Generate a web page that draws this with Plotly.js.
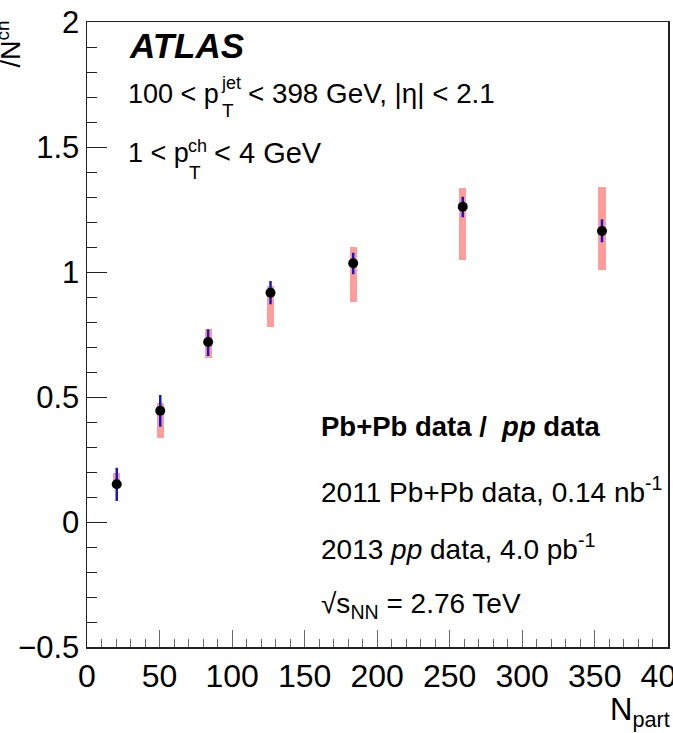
<!DOCTYPE html>
<html>
<head>
<meta charset="utf-8">
<script src="https://cdn.plot.ly/plotly-3.0.1.min.js"></script>
<style>html,body{margin:0;padding:0;background:#fff;}#chart{width:673px;height:733px;}</style>
</head>
<body>
<div id="chart"></div>
<script>
// Data
const nPart   = [20.5, 50.5, 83.5, 126.5, 183.5, 259, 355];
const ratio   = [0.151, 0.445, 0.720, 0.917, 1.035, 1.261, 1.164];
const statUp  = [0.066, 0.063, 0.051, 0.047, 0.042, 0.040, 0.047];
const statDn  = [0.067, 0.064, 0.056, 0.046, 0.044, 0.042, 0.045];
const sysHigh = [0.198, 0.475, 0.771, 0.944, 1.099, 1.336, 1.340];
const sysLow  = [0.136, 0.335, 0.655, 0.781, 0.879, 1.048, 1.008];
const yTickVals = [-0.5, 0, 0.5, 1, 1.5, 2];
const xTickVals = [0, 50, 100, 150, 200, 250, 300, 350, 400];

const FONT = '"Liberation Sans", Arial, Helvetica, sans-serif';

const sysTrace = {
  type: 'bar',
  x: nPart,
  base: sysLow,
  y: sysHigh.map((h, i) => h - sysLow[i]),
  width: 5,
  marker: {color: '#ff9c9c', line: {width: 0}},
  hoverinfo: 'skip',
  showlegend: false
};

const dataTrace = {
  type: 'scatter',
  mode: 'markers',
  x: nPart,
  y: ratio,
  marker: {color: '#000', size: 10},
  error_y: {type: 'data', symmetric: false, array: statUp, arrayminus: statDn,
            color: '#1818c8', thickness: 2.5, width: 0},
  showlegend: false,
  cliponaxis: false
};

const W = 581.5, H = 625, L = 86.5, T = 22;
const px = v => (v - L) / W;
const py = v => (T + H - v) / H;

const annotations = [
  {text: '<b><i>ATLAS</i></b>', x: px(127), y: py(46), xanchor: 'left', yanchor: 'middle', font: {size: 35}},
  // line 2: 100 < pT^jet < 398 GeV, |eta| < 2.1  (ROOT-style stacked sub/sup)
  {text: '100 < p', x: px(126), y: py(94), xanchor: 'left', yanchor: 'middle', font: {size: 27}},
  {text: 'jet', x: px(219), y: py(83), xanchor: 'left', yanchor: 'middle', font: {size: 18}},
  {text: 'T', x: px(220), y: py(111), xanchor: 'left', yanchor: 'middle', font: {size: 19}},
  {text: '< 398 GeV, |η| < 2.1', x: px(246), y: py(94), xanchor: 'left', yanchor: 'middle', font: {size: 27.8}},
  // line 3: 1 < pT^ch < 4 GeV
  {text: '1 < p', x: px(126), y: py(153), xanchor: 'left', yanchor: 'middle', font: {size: 27}},
  {text: 'ch', x: px(186), y: py(146), xanchor: 'left', yanchor: 'middle', font: {size: 18}},
  {text: 'T', x: px(187), y: py(172), xanchor: 'left', yanchor: 'middle', font: {size: 19}},
  {text: '< 4 GeV', x: px(212), y: py(153), xanchor: 'left', yanchor: 'middle', font: {size: 29}},
  {text: '<b>Pb+Pb data /  <i>pp</i> data</b>', x: px(319), y: py(426), xanchor: 'left', yanchor: 'middle', font: {size: 27.5}},
  {text: '2011 Pb+Pb data, 0.14 nb<sup>-1</sup>', x: px(319), y: py(490), xanchor: 'left', yanchor: 'middle', font: {size: 28}},
  {text: '2013 <i>pp</i> data, 4.0 pb<sup>-1</sup>', x: px(319), y: py(547), xanchor: 'left', yanchor: 'middle', font: {size: 28}},
  {text: '√s<sub>NN</sub> = 2.76 TeV', x: px(319), y: py(605), xanchor: 'left', yanchor: 'middle', font: {size: 28}},
  {text: 'N<sub>part</sub>', x: px(672), y: py(712), xanchor: 'right', yanchor: 'middle', font: {size: 31}},
  {text: '/N<sup>ch</sup>', x: px(8), y: py(44), xanchor: 'center', yanchor: 'middle', textangle: -90, font: {size: 27}}
].map(a => Object.assign({xref: 'paper', yref: 'paper', showarrow: false}, a, {font: Object.assign({family: FONT, color: '#000'}, a.font)}));

const layout = {
  width: 673, height: 733,
  margin: {l: L, r: 673 - L - W, t: T, b: 733 - T - H, pad: 0},
  paper_bgcolor: '#fff', plot_bgcolor: '#fff',
  font: {family: FONT, color: '#000'},
  showlegend: false,
  bargap: 0,
  xaxis: {
    range: [0, 400.5], tickvals: xTickVals, ticktext: xTickVals.map(String),
    ticklabeloverflow: 'allow',
    ticks: 'inside', ticklen: 17, tickwidth: 1, tickcolor: '#666',
    minor: {dtick: 10, tick0: 0, ticks: 'inside', ticklen: 8, tickwidth: 1, tickcolor: '#666'},
    showline: true, mirror: true, linecolor: '#222', linewidth: 1.5,
    showgrid: false, zeroline: false,
    tickfont: {size: 32, family: FONT, color: '#000'}
  },
  yaxis: {
    range: [-0.5, 2], tickvals: yTickVals, ticktext: yTickVals.map(v => v < 0 ? '\u2212' + Math.abs(v) : String(v)),
    ticks: 'inside', ticklen: 20, tickwidth: 1, tickcolor: '#222',
    minor: {dtick: 0.1, tick0: 0, ticks: 'inside', ticklen: 10, tickwidth: 1, tickcolor: '#222'},
    showline: true, mirror: true, linecolor: '#222', linewidth: 1.5,
    showgrid: false, zeroline: false,
    tickfont: {size: 31, family: FONT, color: '#000'}
  },
  annotations: annotations
};

Plotly.newPlot('chart', [sysTrace, dataTrace], layout, {staticPlot: true, displayModeBar: false});
</script>
</body>
</html>
